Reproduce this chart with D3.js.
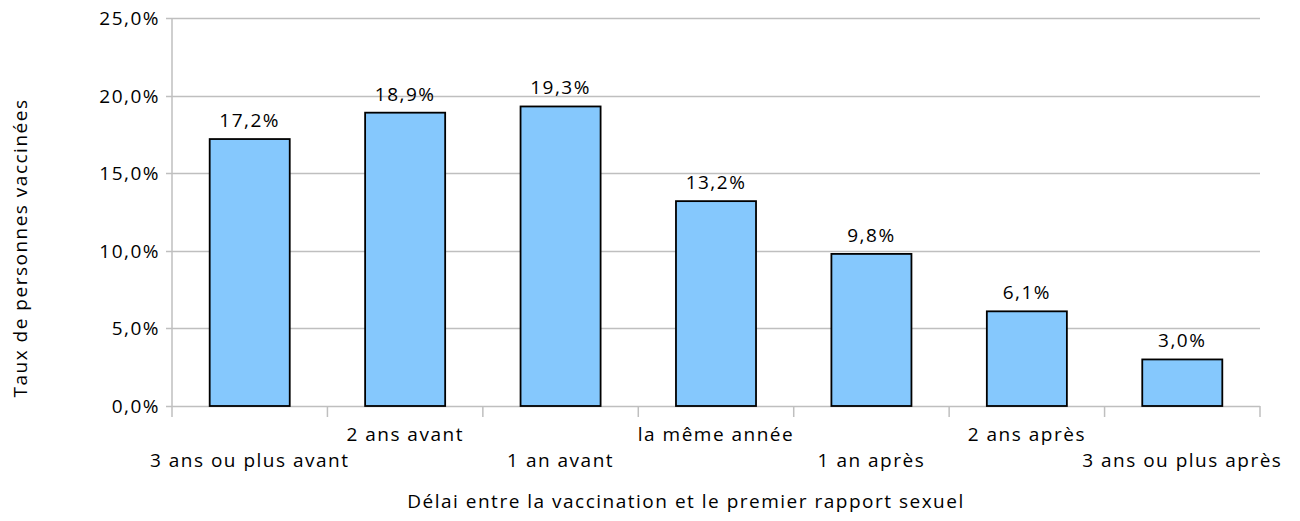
<!DOCTYPE html>
<html>
<head>
<meta charset="utf-8">
<script src="https://cdnjs.cloudflare.com/ajax/libs/d3/7.8.5/d3.min.js"></script>
<style>
  body { margin: 0; background: #fff; }
  text { font-family: "Open Sans", sans-serif; fill: #000; font-size: 19px; letter-spacing: 1.5px; }
</style>
</head>
<body>
<svg id="chart" width="1300" height="521"></svg>
<script>
// data
var categories = ["3 ans ou plus avant", "2 ans avant", "1 an avant", "la même année",
                  "1 an après", "2 ans après", "3 ans ou plus après"];
var values = [17.2, 18.9, 19.3, 13.2, 9.8, 6.1, 3.0];
var yTicks = [0, 5, 10, 15, 20, 25];

var svg = d3.select("#chart");
var margin = { left: 172, right: 40, top: 18, bottom: 115 };
var width = 1300 - margin.left - margin.right,
    height = 521 - margin.top - margin.bottom;

var fmt = function(v) { return v.toFixed(1).replace(".", ",") + "%"; };

var x = d3.scaleBand().domain(categories).range([0, width]).paddingInner(0.485).paddingOuter(0.2425);
var y = d3.scaleLinear().domain([0, 25]).range([height, 0]);

var g = svg.append("g").attr("transform", "translate(" + margin.left + "," + margin.top + ")");

// gridlines
g.selectAll(".grid").data(yTicks).enter().append("line")
    .attr("x1", -6).attr("x2", width)
    .attr("y1", function(d) { return Math.round(y(d)) + 0.5; })
    .attr("y2", function(d) { return Math.round(y(d)) + 0.5; })
    .attr("stroke", "#bfbfbf").attr("stroke-width", 1.5);

// y axis line
g.append("line").attr("x1", 0).attr("x2", 0).attr("y1", 0).attr("y2", height)
    .attr("stroke", "#bfbfbf").attr("stroke-width", 1.5);

// y tick labels
g.selectAll(".ylab").data(yTicks).enter().append("text")
    .attr("x", -12).attr("y", function(d) { return y(d) + 7; })
    .attr("text-anchor", "end")
    .text(fmt);

// x category separators
var step = x.step();
var seps = d3.range(categories.length + 1);
g.selectAll(".sep").data(seps).enter().append("line")
    .attr("x1", function(i) { return x(categories[0]) - x.paddingOuter() * step + i * step; })
    .attr("x2", function(i) { return x(categories[0]) - x.paddingOuter() * step + i * step; })
    .attr("y1", height).attr("y2", height + 11)
    .attr("stroke", "#bfbfbf").attr("stroke-width", 1.5);

// bars
g.selectAll(".bar").data(values).enter().append("rect")
    .attr("x", function(d, i) { return x(categories[i]); })
    .attr("y", function(d) { return y(d); })
    .attr("width", x.bandwidth())
    .attr("height", function(d) { return height - y(d); })
    .attr("fill", "#85c8fd").attr("stroke", "#000").attr("stroke-width", 1.8);

// value labels
g.selectAll(".val").data(values).enter().append("text")
    .attr("x", function(d, i) { return x(categories[i]) + x.bandwidth() / 2; })
    .attr("y", function(d) { return y(d) - 12; })
    .attr("text-anchor", "middle")
    .text(fmt);

// category labels (staggered)
g.selectAll(".cat").data(categories).enter().append("text")
    .attr("x", function(d) { return x(d) + x.bandwidth() / 2; })
    .attr("y", function(d, i) { return height + (i % 2 === 0 ? 61 : 35); })
    .attr("text-anchor", "middle")
    .text(function(d) { return d; });

// axis titles
svg.append("text")
    .attr("x", 686).attr("y", 508)
    .attr("text-anchor", "middle")
    .text("Délai entre la vaccination et le premier rapport sexuel");

svg.append("text")
    .attr("transform", "translate(27," + 248 + ") rotate(-90)")
    .attr("text-anchor", "middle")
    .text("Taux de personnes vaccinées");
</script>
</body>
</html>
